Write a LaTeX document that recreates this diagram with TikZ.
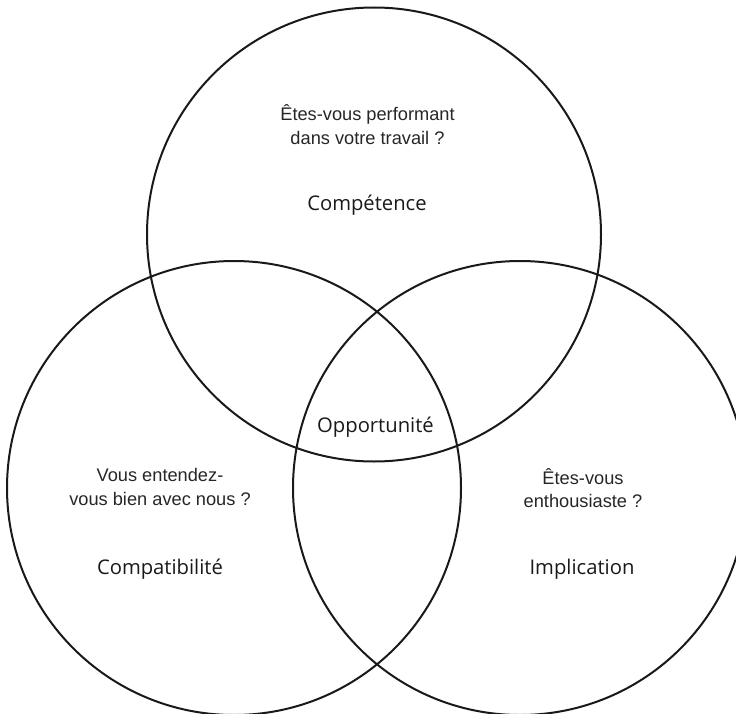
\documentclass[tikz,border=0pt]{standalone}
\usepackage{fontspec}
\setmainfont{Liberation Sans}
\newfontfamily\labelfont{Open Sans}
\begin{document}
\begin{tikzpicture}[x=1bp,y=-1bp,
  ring/.style={draw=black!90,line width=2bp},
  question/.style={font=\fontsize{18.3}{23.5}\selectfont,text=black!85,align=center,inner sep=0pt},
  title/.style={font=\labelfont\fontsize{20.3}{22}\selectfont,text=black!90,inner sep=0pt}]
\useasboundingbox (0,0) rectangle (736,714);
\begin{scope}
\clip (0,0) rectangle (736,714);
\draw[ring] (374,234.5) circle (227);
\draw[ring] (234,488) circle (227);
\draw[ring] (520,488) circle (227);
\end{scope}
\node[question] (q1) at (367.5,124.5) {Êtes-vous performant\\dans votre travail ?};
\node[title] (t1) at (367,205) {Compétence};
\node[title] (t0) at (375.5,427) {Opportunité};
\node[question] (q2) at (160,487) {Vous entendez-\\vous bien avec nous ?};
\node[title] (t2) at (160,569) {Compatibilité};
\node[question] (q3) at (583,488) {Êtes-vous\\enthousiaste ?};
\node[title] (t3) at (582,569) {Implication};
\end{tikzpicture}
\end{document}
